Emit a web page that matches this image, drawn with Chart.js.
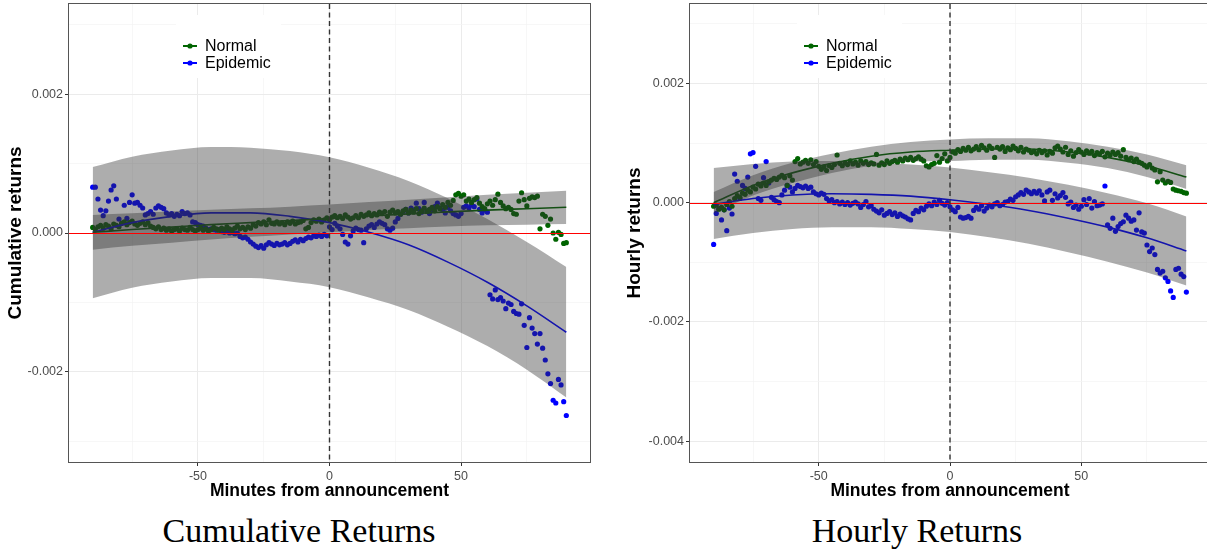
<!DOCTYPE html>
<html>
<head>
<meta charset="utf-8">
<script src="https://cdn.jsdelivr.net/npm/chart.js@4.4.0/dist/chart.umd.min.js"></script>
<style>
  body { margin: 0; width: 1207px; height: 552px; overflow: hidden; background: #fff; position: relative; }
  canvas { position: absolute; top: 0; }
  .caption { position: absolute; top: 514px; font-family: "Liberation Serif", serif; font-size: 34px; line-height: 1; text-align: center; color: #000; }
</style>
</head>
<body>
<canvas id="cum" width="605" height="510" style="left:0"></canvas>
<canvas id="hourly" width="615" height="510" style="left:605px"></canvas>
<div class="caption" style="left:99px;width:400px">Cumulative Returns</div>
<div class="caption" style="left:717px;width:400px">Hourly Returns</div>
<script>
// values are in units of 1e-4 (returns)
const UNIT = 1e-4;
const firstMinute = -90, lastMinute = 90;
const minutes = [];
for (let m = firstMinute; m <= lastMinute; m++) minutes.push(m);

const seriesNames = ['Normal', 'Epidemic'];
const GREEN = '#006400';
const BLUE = '#0000ff';
const RIBBON = 'rgba(51,51,51,0.4)';

// cumulative returns, one point per minute from -90 to 90
const cumNormal = [
  0.8, 0.5, 0.9, 1.1, 0.7, 1.2, 1.0, 0.6, 1.3, 1.1,
  0.9, 1.4, 1.6, 1.2, 1.5, 1.7, 1.3, 1.1, 1.4, 1.6,
  1.2, 1.5, 1.0, 0.8, 0.6, 0.9, 0.5, 0.7, 0.4, 0.6,
  0.3, 0.5, 0.6, 0.3, 0.7, 0.5, 0.4, 0.8, 0.5, 0.3,
  0.5, 0.7, 0.4, 0.6, 0.3, 0.5, 0.8, 0.6, 0.4, 0.7,
  0.5, 0.9, 0.6, 0.4, 0.7, 1.0, 0.6, 0.8, 0.5, 0.9,
  0.7, 1.2, 1.0, 1.5, 1.3, 1.6, 1.2, 1.9, 1.4, 1.3,
  1.6, 1.3, 1.5, 1.2, 1.6, 1.4, 1.7, 1.3, 1.5, 1.6,
  1.8, 0.6, 0.8, 1.5, 1.9, 1.7, 2.0, 1.6, 1.9, 2.2,
  1.9, 2.3, 2.5, 2.2, 2.4, 2.1, 2.6, 2.3, 2.0, 2.2,
  2.5, 2.2, 2.7, 2.4, 2.6, 2.9, 2.5, 2.8, 2.6, 3.0,
  2.8, 3.1, 2.4, 3.0, 3.3, 2.9, 3.1, 2.7, 3.2, 3.4,
  2.9, 3.3, 3.0, 3.5, 2.8, 3.2, 3.6, 3.1, 3.4, 3.7,
  3.2, 3.8, 3.5, 4.1, 3.7, 4.4, 4.0, 4.7, 5.5, 5.7,
  5.3, 5.5, 4.6, 4.9, 4.4, 4.8, 5.1, 4.3, 3.8, 3.5,
  4.2, 4.6, 4.0, 4.8, 5.6, 4.4, 3.9, 3.5, 3.7, 3.4,
  2.8, 2.7, 4.6, 5.8, 4.8, 3.9, 5.0, 5.2, 5.1, 5.3,
  0.6, 2.7, 2.4, 1.1, 2.0, 0.0, -0.9, 0.1, -0.2, -1.5, -1.4
];
const cumEpidemic = [
  6.6, 6.6, 4.9, 3.3, 2.5, 3.2, 4.6, 6.2, 6.8, 4.9,
  2.0, 1.4, 4.0, 2.1, 4.4, 5.5, 4.3, 4.4, 4.0, 3.6,
  2.6, 2.8, 3.1, 2.7, 3.6, 3.9, 3.7, 3.5, 2.9, 2.6,
  2.8, 2.4, 2.7, 2.5, 3.1, 2.8, 2.9, 2.6, 1.6, 1.5,
  1.2, 1.1, 1.0, 0.7, 0.5, 0.6, 0.5, 0.4, 0.5, 0.2,
  0.1, 0.2, 0.0, 0.1, -0.1, 0.0, -0.5, -0.7, -0.6, -0.9,
  -1.3, -1.6, -1.9, -2.1, -1.8, -2.2, -1.7, -1.4, -1.6, -1.8,
  -1.5, -1.7, -1.6, -1.4, -1.7, -1.5, -1.2, -1.0, -1.3, -0.9,
  -1.1, -0.8, -0.6, -0.7, -0.4, -0.5, -0.3, -0.5, -0.2, -0.4,
  0.9, 0.5, 1.4, 1.0, 0.6, -0.2, -1.3, -1.6, -0.4, 0.3,
  0.7, 0.5, 0.4, -1.4, 0.6, 1.0, 1.2, 0.8, 1.3, 1.6,
  1.4, 1.2, 0.6, 0.4, 0.7, 1.6, 2.1, 2.7, 3.1, 3.4,
  2.9, 3.6, 3.3, 4.3, 3.5, 3.0, 4.4, 3.2, 2.8, 3.4,
  3.8, 4.3, 3.6, 3.3, 2.9, 3.7, 3.2, 2.8, 2.6, 2.4,
  2.8, 3.7, 3.9, 3.6, 4.0, 3.8, 4.9, 3.4, 2.9, 3.3,
  3.0, -8.9, -9.5, -8.2, -9.6, -9.3, -9.8, -10.9, -10.1, -10.3,
  -11.3, -11.6, -11.7, -10.2, -13.3, -16.5, -12.2, -13.7, -14.5, -16.0,
  -14.5, -16.6, -18.3, -20.3, -21.7, -24.1, -24.5, -21.1, -21.9, -24.3, -26.3
];

// hourly returns, one point per minute from -90 to 90
const hourNormal = [
  -0.6, -0.4, -1.1, -0.8, -1.2, -0.3, 0.2, -0.6, 0.7, 1.2,
  0.9, 1.6, 1.4, 2.1, 1.8, 2.6, 2.3, 3.1, 2.8, 3.3,
  2.9, 3.5, 3.8, 4.1, 3.9, 4.3, 4.6, 4.2, 2.9, 4.5,
  3.8, 6.9, 7.4, 6.5, 6.8, 7.1, 6.6, 7.2, 6.4, 6.9,
  6.1, 5.6, 6.0, 5.4, 6.2, 5.9, 6.4, 8.0, 6.6, 6.2,
  6.7, 6.4, 7.0, 6.5, 6.8, 6.3, 7.0, 6.6, 6.9, 6.4,
  6.7, 6.5, 8.1, 6.3, 6.7, 6.4, 7.0, 6.6, 6.9, 7.1,
  6.8, 7.3, 7.0, 7.5, 7.2, 7.6, 7.1, 7.4, 7.7, 7.3,
  7.0, 6.2, 6.0, 6.4, 6.6, 7.9, 6.8, 7.4, 8.2, 7.0,
  7.6, 8.5, 8.3, 8.9, 8.6, 9.1, 8.8, 9.3, 8.7, 9.0,
  9.4, 8.9, 9.6, 9.2, 8.8, 9.5, 9.1, 7.6, 9.3, 9.0,
  9.4, 8.6, 9.2, 8.9, 9.5, 9.1, 8.7, 9.3, 8.5, 9.0,
  8.8, 8.4, 8.6, 8.2, 8.8, 8.4, 8.7, 8.0, 8.6, 8.3,
  9.2, 9.5, 9.0, 8.5, 9.3, 8.1, 8.7, 7.8, 8.4, 8.9,
  8.5, 8.1, 8.7, 8.3, 8.6, 7.9, 8.4, 8.2, 8.6, 7.7,
  8.3, 8.0, 8.5, 8.1, 8.4, 7.8, 8.9, 7.6, 7.2, 7.5,
  6.9, 7.3, 6.8, 6.6, 6.3, 6.0, 6.4, 5.8, 5.5, 3.5,
  5.2, 3.8, 3.3, 3.6, 3.4, 2.3, 2.1, 2.0, 1.9, 1.7, 1.6
];
const hourEpidemic = [
  -7.0, -1.8, -1.0, -2.9, -1.2, -4.7, -0.9, -1.9, 4.8, 3.6,
  0.7, 2.9, 2.4, 4.3, 8.2, 8.4, 6.1, 0.7, 0.4, 4.2,
  6.9, 3.3, 0.9, 0.5, 0.2, 0.0, 1.3, 2.1, 2.9, 2.6,
  1.8, 2.4, 2.9, 2.7, 2.5, 2.8, 2.4, 2.6, 1.8, 1.5,
  1.3, 1.6, 1.4, 0.7, 0.3, 0.5, 0.0, 0.2, -0.2, 0.1,
  -0.3, 0.0, -0.4, -0.1, 0.1, -0.2, -0.8, -0.3, 0.2, -0.7,
  -0.5, -1.1, -1.4, -1.7, -1.2, -2.1, -1.8, -1.5, -2.0, -1.7,
  -2.3, -1.9, -2.2, -2.4, -2.7, -2.9, -1.8, -1.3, -1.5, -0.9,
  -1.2, -0.6, -0.2, -0.5, 0.1, -0.3, 0.4, -0.1, -0.4, 0.0,
  -0.7, -1.2, -1.5, -0.8, -2.4, -2.6, -2.5, -2.3, -2.6, -1.3,
  -0.8, -1.1, -0.5, -1.4, -0.9, -0.4, -0.7, -0.2, 0.0, -0.5,
  -0.3, 0.1, 0.2, 0.6, 0.4, 1.0, 1.3, 1.7, 1.4, 2.1,
  1.8, 1.5, 1.9, 1.6, 2.0, 1.3, 0.3, 1.8, 2.1, 0.4,
  1.5, 0.8, 1.2, 1.7, 0.9, -0.2, 0.1, -0.8, -0.4, -1.1,
  -0.6, 0.5, -0.3, 0.7, -0.9, 0.2, -0.5, -0.4, -0.2, 2.8,
  -3.7, -4.3, -2.6, -4.8, -4.0, -3.5, -3.2, -2.1, -2.6, -3.1,
  -2.9, -4.6, -1.7, -4.9, -5.1, -7.1, -8.2, -7.6, -8.7, -11.2,
  -11.8, -11.5, -12.6, -13.2, -14.8, -15.9, -11.2, -11.0, -12.0, -12.4, -15.0
];

// fitted curves and confidence bands, read every 15 minutes
const fitMinutes = [-90, -75, -60, -45, -30, -15, 0, 15, 30, 45, 60, 75, 90];
const cumNormalFit   = [0.1, 0.5, 0.85, 1.2, 1.5, 1.8, 2.1, 2.45, 2.75, 3.05, 3.3, 3.5, 3.7];
const cumNormalUpper = [2.6, 2.85, 3.1, 3.35, 3.55, 3.8, 4.1, 4.45, 4.8, 5.15, 5.5, 5.8, 6.1];
const cumNormalLower = [-2.4, -1.85, -1.4, -0.95, -0.55, -0.2, 0.1, 0.45, 0.7, 0.95, 1.1, 1.2, 1.3];
const cumEpidemicFit   = [0.1, 1.5, 2.4, 2.9, 2.9, 2.4, 1.5, 0.1, -1.7, -4.2, -7.1, -10.5, -14.3];
const cumEpidemicUpper = [9.5, 11.0, 11.9, 12.4, 12.3, 11.8, 10.9, 9.4, 7.5, 5.0, 2.0, -1.3, -4.9];
const cumEpidemicLower = [-9.4, -7.9, -7.0, -6.5, -6.5, -7.0, -7.8, -9.3, -11.1, -13.5, -16.3, -19.7, -23.7];
const hourNormalFit   = [0.0, 2.9, 5.0, 6.6, 7.8, 8.5, 8.8, 9.0, 9.0, 8.5, 7.6, 6.2, 4.3];
const hourNormalUpper = [1.8, 4.6, 6.7, 8.2, 9.4, 10.2, 10.6, 10.8, 10.8, 10.3, 9.4, 8.1, 6.3];
const hourNormalLower = [-1.8, 1.2, 3.3, 5.0, 6.2, 6.9, 7.0, 7.2, 7.2, 6.7, 5.8, 4.3, 2.3];
const hourEpidemicFit   = [-0.3, 0.7, 1.3, 1.5, 1.4, 1.1, 0.5, -0.3, -1.3, -2.6, -4.1, -5.9, -8.1];
const hourEpidemicUpper = [5.8, 6.5, 6.9, 7.0, 6.8, 6.4, 5.9, 5.1, 4.2, 3.0, 1.6, -0.1, -2.3];
const hourEpidemicLower = [-6.1, -5.1, -4.4, -4.1, -4.1, -4.4, -4.9, -5.8, -6.9, -8.3, -9.9, -11.7, -13.9];

// axes
const xGridMinutes = [-75, -50, -25, 0, 25, 50, 75];
const cumYGrid = [-0.003, -0.002, -0.001, 0, 0.001, 0.002, 0.003];
const hourYGrid = [-0.004, -0.003, -0.002, -0.001, 0, 0.001, 0.002, 0.003];
const zeroReturn = 0;
const announcementMinute = 0;

Chart.defaults.font.family = '"Liberation Sans", Arial, sans-serif';

function pts(xs, ys) {
  return xs.map((x, i) => ({ x: x, y: ys[i] * UNIT }));
}

function isMajor(v, step) {
  const r = v / step;
  return Math.abs(r - Math.round(r)) < 1e-6;
}

function band(upper, lower, order) {
  const common = { type: 'line', pointRadius: 0, borderWidth: 0, borderColor: 'rgba(0,0,0,0)',
    cubicInterpolationMode: 'monotone', order: order };
  return [
    Object.assign({ data: pts(fitMinutes, upper), fill: '+1', backgroundColor: RIBBON }, common),
    Object.assign({ data: pts(fitMinutes, lower), fill: false }, common)
  ];
}

function fitLine(values, color) {
  return { type: 'line', data: pts(fitMinutes, values), borderColor: color, borderWidth: 1.6,
    pointRadius: 0, fill: false, cubicInterpolationMode: 'monotone', order: 4 };
}

const refLines = {
  id: 'refLines',
  afterDatasetsDraw(chart) {
    const { ctx, chartArea: a, scales: { x, y } } = chart;
    ctx.save();
    const yz = Math.round(y.getPixelForValue(zeroReturn)) + 0.5;
    ctx.setLineDash([]);
    ctx.strokeStyle = '#ff0000';
    ctx.lineWidth = 1;
    ctx.beginPath(); ctx.moveTo(a.left, yz); ctx.lineTo(a.right, yz); ctx.stroke();
    const xa = x.getPixelForValue(announcementMinute);
    ctx.strokeStyle = '#333333';
    ctx.lineWidth = 1.4;
    ctx.setLineDash([5, 3.5]);
    ctx.beginPath(); ctx.moveTo(xa, a.top); ctx.lineTo(xa, a.bottom); ctx.stroke();
    ctx.restore();
  },
  afterDraw(chart) {
    const { ctx, chartArea: a } = chart;
    ctx.save();
    // panel border
    ctx.strokeStyle = '#555555';
    ctx.lineWidth = 1;
    ctx.strokeRect(Math.round(a.left) - 0.5, Math.round(a.top) - 0.5, Math.round(a.right - a.left) + 1, Math.round(a.bottom - a.top) + 1);
    // legend
    const colors = [GREEN, BLUE];
    ctx.fillStyle = '#ffffff';
    ctx.fillRect(a.left + 107, 15, 105, 63);
    seriesNames.forEach((name, i) => {
      const yy = 46 + i * 17;
      ctx.strokeStyle = colors[i];
      ctx.lineWidth = 2;
      ctx.beginPath(); ctx.moveTo(a.left + 114, yy); ctx.lineTo(a.left + 128, yy); ctx.stroke();
      ctx.fillStyle = colors[i];
      ctx.beginPath(); ctx.arc(a.left + 121, yy, 2.6, 0, 2 * Math.PI); ctx.fill();
      ctx.fillStyle = '#000000';
      ctx.font = '16px "Liberation Sans", Arial, sans-serif';
      ctx.textBaseline = 'middle';
      ctx.fillText(name, a.left + 136, yy + 1);
    });
    ctx.restore();
  }
};

function makePanel(id, p) {
  const datasets = [
    { label: 'Normal', data: pts(minutes, p.normal), backgroundColor: GREEN, borderWidth: 0, pointRadius: 2.6, order: 5 },
    { label: 'Epidemic', data: pts(minutes, p.epidemic), backgroundColor: BLUE, borderWidth: 0, pointRadius: 2.6, order: 5 },
    fitLine(p.normalFit, GREEN),
    fitLine(p.epidemicFit, BLUE)
  ].concat(band(p.normalUpper, p.normalLower, 3), band(p.epidemicUpper, p.epidemicLower, 2));

  return new Chart(document.getElementById(id), {
    type: 'scatter',
    data: { datasets: datasets },
    options: {
      responsive: false,
      animation: false,
      events: [],
      layout: { padding: { left: 0, top: 1, right: p.padRight, bottom: 0 } },
      plugins: { legend: { display: false }, tooltip: { enabled: false } },
      scales: {
        x: {
          type: 'linear', min: -99, max: 99,
          afterBuildTicks: s => { s.ticks = xGridMinutes.map(v => ({ value: v })); },
          afterFit: s => { s.height = 48; s.paddingLeft = 0; s.paddingRight = 0; },
          border: { display: false },
          grid: {
            color: c => isMajor(c.tick.value, 50) ? '#ebebeb' : '#f4f4f4',
            lineWidth: c => isMajor(c.tick.value, 50) ? 1 : 0.7,
            tickColor: c => isMajor(c.tick.value, 50) ? '#333333' : 'rgba(0,0,0,0)',
            tickLength: 4
          },
          ticks: {
            autoSkip: false, maxRotation: 0, padding: 3, color: '#4d4d4d', font: { size: 12.5 },
            callback: v => isMajor(v, 50) ? String(v) : ''
          },
          title: {
            display: true, text: 'Minutes from announcement', color: '#000',
            font: { size: 17.5, weight: 'bold' }, padding: { top: 0, bottom: 8 }
          }
        },
        y: {
          type: 'linear', min: p.yMin, max: p.yMax,
          afterBuildTicks: s => { s.ticks = p.yGrid.map(v => ({ value: v })); },
          afterFit: s => { s.width = p.yAxisWidth; s.paddingTop = 0; s.paddingBottom = 0; },
          border: { display: false },
          grid: {
            color: c => isMajor(c.tick.value, p.major) ? '#ebebeb' : '#f4f4f4',
            lineWidth: c => isMajor(c.tick.value, p.major) ? 1 : 0.7,
            tickColor: c => isMajor(c.tick.value, p.major) ? '#333333' : 'rgba(0,0,0,0)',
            tickLength: 4
          },
          ticks: {
            autoSkip: false, padding: 2, color: '#4d4d4d', font: { size: 12.5 },
            callback: v => isMajor(v, p.major) ? v.toFixed(3) : ''
          },
          title: {
            display: true, text: p.yTitle, color: '#000',
            font: { size: 19, weight: 'bold' }, padding: { top: p.yTitlePad, bottom: 0 }
          }
        }
      }
    },
    plugins: [refLines]
  });
}

makePanel('cum', {
  normal: cumNormal, epidemic: cumEpidemic,
  normalFit: cumNormalFit, normalUpper: cumNormalUpper, normalLower: cumNormalLower,
  epidemicFit: cumEpidemicFit, epidemicUpper: cumEpidemicUpper, epidemicLower: cumEpidemicLower,
  yMin: -0.0033, yMax: 0.0033, yGrid: cumYGrid, major: 0.002,
  yTitle: 'Cumulative returns', yAxisWidth: 69, yTitlePad: 4, padRight: 15
});

makePanel('hourly', {
  normal: hourNormal, epidemic: hourEpidemic,
  normalFit: hourNormalFit, normalUpper: hourNormalUpper, normalLower: hourNormalLower,
  epidemicFit: hourEpidemicFit, epidemicUpper: hourEpidemicUpper, epidemicLower: hourEpidemicLower,
  yMin: -0.00435, yMax: 0.003333, yGrid: hourYGrid, major: 0.002,
  yTitle: 'Hourly returns', yAxisWidth: 85, yTitlePad: 18, padRight: 10
});
</script>
</body>
</html>
